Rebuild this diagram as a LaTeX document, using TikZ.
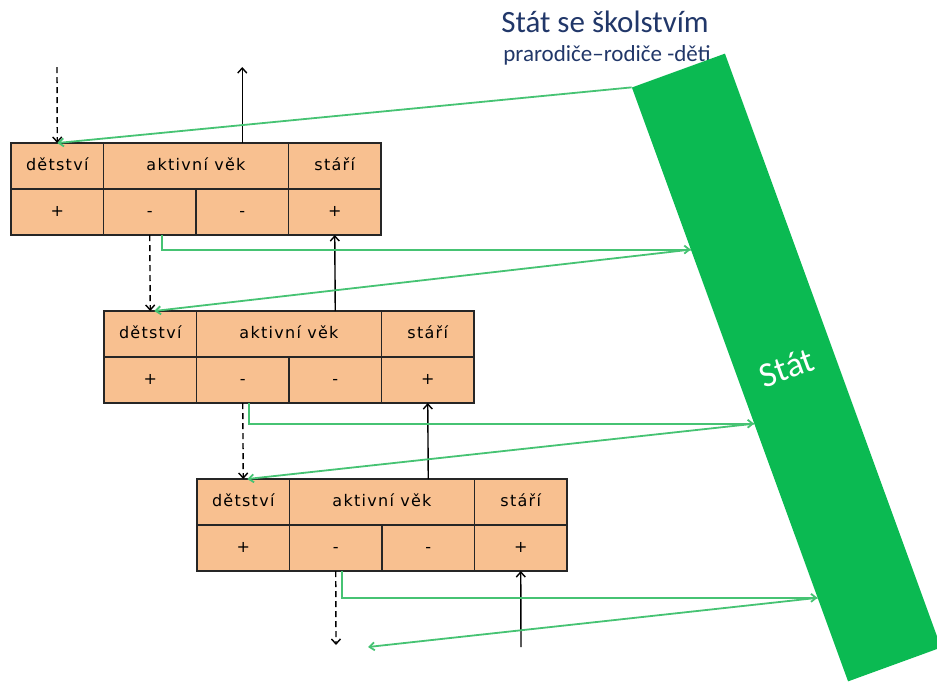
\documentclass[tikz,border=0pt]{standalone}
\usepackage{fontspec}
\setmainfont{DejaVu Sans}
\newfontfamily\cellfont[LetterSpace=8]{DejaVu Sans}
\newfontfamily\titlefont{Carlito}
\usepackage{tikz}
\usetikzlibrary{arrows.meta}
\definecolor{boxorange}{RGB}{248,192,144}
\definecolor{stategreen}{RGB}{11,186,82}
\definecolor{linegreen}{RGB}{70,195,115}
\definecolor{titleblue}{RGB}{33,55,105}

\begin{document}
\begin{tikzpicture}[
		x=1pt, y=-1pt,
		cell/.style={rectangle, draw=black!85, fill=boxorange, line width=1.6pt, minimum width=92.5pt, minimum height=46pt,
			inner sep=0pt, outer sep=0pt, anchor=north west, text height=11pt, text depth=3pt,
			font=\cellfont\fontsize{16}{18}\selectfont},
		wide/.style={cell, minimum width=185pt},
		flow/.style={-{Straight Barb[length=5pt, width=9pt]}, line width=1.4pt},
		money/.style={-{Straight Barb[length=5pt, width=8pt]}, draw=linegreen, line width=1.8pt},
		gap/.style={dash pattern=on 6pt off 4pt}
	]
  \useasboundingbox (0,0) rectangle (937,683);
  \node (title) [font=\titlefont\fontsize{31}{33}\selectfont, text=titleblue] at (605,22) {Stát se školstvím};
  \node (sub) [font=\titlefont\fontsize{23}{25}\selectfont, text=titleblue] at (607,55) {prarodiče–rodiče -děti};
  \node (stat) [rectangle, fill=stategreen, rotate=20, minimum width=99pt, minimum height=632pt, text=white,
    font=\titlefont\fontsize{35}{37}\selectfont] at (786.5,367.5) {Stát};
  \path (stat.north west) -- (stat.south west) coordinate[pos=0.273] (g1) coordinate[pos=0.566] (g2) coordinate[pos=0.859] (g3);

  \node (d1) [cell] at (11,143) {dětství};
  \node (a1) [wide] at (103.5,143) {aktivní věk};
  \node (s1) [cell] at (288.5,143) {stáří};
  \node (p1a) [cell] at (11,189) {+};
  \node (m1a) [cell] at (103.5,189) {-};
  \node (m1b) [cell] at (196,189) {-};
  \node (p1b) [cell] at (288.5,189) {+};

  \node (d2) [cell] at (104,311) {dětství};
  \node (a2) [wide] at (196.5,311) {aktivní věk};
  \node (s2) [cell] at (381.5,311) {stáří};
  \node (p2a) [cell] at (104,357) {+};
  \node (m2a) [cell] at (196.5,357) {-};
  \node (m2b) [cell] at (289,357) {-};
  \node (p2b) [cell] at (381.5,357) {+};

  \node (d3) [cell] at (197,479) {dětství};
  \node (a3) [wide] at (289.5,479) {aktivní věk};
  \node (s3) [cell] at (474.5,479) {stáří};
  \node (p3a) [cell] at (197,525) {+};
  \node (m3a) [cell] at (289.5,525) {-};
  \node (m3b) [cell] at (382,525) {-};
  \node (p3b) [cell] at (474.5,525) {+};

  \coordinate (in1) at (57,67);
  \coordinate (out3) at (336,645);
  \coordinate (back3) at (368,647);
  \coordinate (in3) at (521,647);

  \draw[flow, gap] (in1) -- (d1.north);
  \draw[flow] (m1b |- a1.north) -- (m1b |- in1);
  \draw[money] (stat.north west) -- (d1.north);

  \draw[flow, gap] (m1a.south) -- (d2.north);
  \draw[flow] (m2b |- a2.north) -- (p1b.south);
  \draw[money] ([xshift=12pt]m1a.south) |- (g1);
  \draw[money] (g1) -- ([xshift=4pt]d2.north);

  \draw[flow, gap] (m2a.south) -- (d3.north);
  \draw[flow] (m3b |- a3.north) -- (p2b.south);
  \draw[money] ([xshift=6pt]m2a.south) |- (g2);
  \draw[money] (g2) -- ([xshift=4pt]d3.north);

  \draw[flow, gap] (m3a.south) -- (out3);
  \draw[flow] (in3) -- (p3b.south);
  \draw[money] ([xshift=6pt]m3a.south) |- (g3);
  \draw[money] (g3) -- (back3);
\end{tikzpicture}
\end{document}
